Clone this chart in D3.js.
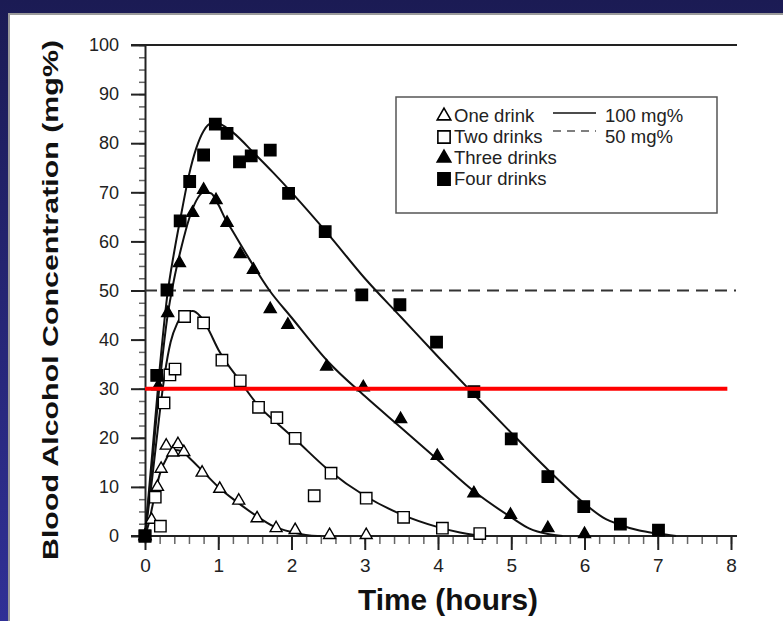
<!DOCTYPE html>
<html>
<head>
<meta charset="utf-8">
<script src="https://cdn.jsdelivr.net/npm/d3@7"></script>
<style>
  body { margin: 0; background: #1c1c58; }
  svg { display: block; }
  .tick text { font-family: "Liberation Sans", Arial, sans-serif; fill: #222; }
</style>
</head>
<body>
<div id="chart"></div>
<script>
// Observed points (time in hours, BAC in mg%)
const oneDrink = [[0,0],[0.09,3.3],[0.17,10],[0.22,13.7],[0.29,18.4],[0.38,17],[0.45,18.7],[0.53,17.1],
  [0.78,12.9],[1.02,9.6],[1.28,7.2],[1.53,3.6],[1.79,1.6],[2.05,1.2],[2.52,0.2],[3.02,0.2]];
const twoDrinks = [[0,0],[0.14,7.9],[0.21,2.0],[0.26,27.1],[0.34,32.8],[0.41,34],[0.54,44.7],[0.8,43.4],
  [1.05,35.8],[1.3,31.6],[1.55,26.2],[1.8,24.1],[2.05,19.9],[2.31,8.2],[2.54,12.8],[3.02,7.7],
  [3.53,3.8],[4.06,1.6],[4.57,0.5]];
const threeDrinks = [[0,0],[0.18,30.5],[0.31,45.4],[0.47,55.6],[0.65,65.8],[0.8,70.5],[0.97,68.4],
  [1.12,63.8],[1.3,57.4],[1.48,54.2],[1.71,46.2],[1.95,43],[2.48,34.5],[2.98,30.3],[3.49,23.8],
  [3.99,16.3],[4.49,8.7],[4.99,4.3],[5.5,1.6],[6,0.4]];
const fourDrinks = [[0,0],[0.16,32.7],[0.3,50.1],[0.48,64.2],[0.61,72.2],[0.8,77.6],[0.96,83.9],
  [1.12,82],[1.29,76.2],[1.45,77.4],[1.71,78.6],[1.96,69.8],[2.46,62],[2.96,49.1],[3.48,47.1],
  [3.98,39.5],[4.49,29.4],[5,19.8],[5.5,12.1],[5.99,6],[6.49,2.4],[7.01,1.2]];

// Fitted model curves
const oneDrinkFit = [[0,0],[0.05,2.5],[0.1,6],[0.2,12.5],[0.3,16],[0.4,17.5],[0.5,17.3],[0.6,16],
  [0.8,13],[1,10],[1.25,7],[1.5,4.3],[1.75,2],[2,0.8],[2.25,0.1],[2.4,0]];
const twoDrinksFit = [[0,0],[0.1,12],[0.2,25],[0.27,33],[0.35,39.5],[0.44,43.3],[0.55,45.5],[0.65,45.8],
  [0.75,44.8],[0.85,42.5],[1,38],[1.3,31.5],[1.55,26.5],[1.8,23],[2.05,19.7],[2.5,13.5],[3,8.2],
  [3.5,4.4],[4,1.8],[4.3,0.7],[4.5,0.2],[4.6,0]];
const threeDrinksFit = [[0,0],[0.1,15],[0.2,31],[0.3,44],[0.4,52.5],[0.5,59],[0.6,64.5],[0.7,68.3],
  [0.8,70],[0.9,69.8],[1,67.5],[1.1,64.5],[1.2,62],[1.4,57],[1.7,50],[2,44.5],[2.5,35.5],[3,28.5],
  [3.5,22],[4,15.5],[4.5,9],[5,3.8],[5.25,1.5],[5.5,0.4],[5.7,0]];
const fourDrinksFit = [[0,0],[0.1,17],[0.2,34],[0.3,48.5],[0.4,58],[0.5,66],[0.6,73.5],[0.7,79],
  [0.8,82.5],[0.9,84],[1,84],[1.1,83.3],[1.2,82.2],[1.5,77.8],[1.75,74],[2,70],[2.5,61.5],[3,52.5],
  [3.5,44.5],[4,36.5],[4.5,28.7],[5,21],[5.5,13.5],[6,6.6],[6.25,3.8],[6.5,2.2],[6.75,1.1],[7,0.5],[7.25,0]];

const xTicks = [0, 1, 2, 3, 4, 5, 6, 7, 8];
const yTicks = [0, 10, 20, 30, 40, 50, 60, 70, 80, 90, 100];
const limit50 = 50;      // dashed "50 mg%" level
const redLevel = 30;     // red annotation line
const redLineEnd = 7.95;

const legendSeries = ["One drink", "Two drinks", "Three drinks", "Four drinks"];
const legendLines = ["100 mg%", "50 mg%"];

const W = 783, H = 621;
const svg = d3.select("#chart").append("svg").attr("width", W).attr("height", H);

// background
const grad = svg.append("defs").append("linearGradient").attr("id", "bg")
  .attr("x1", 0).attr("y1", 0).attr("x2", 0).attr("y2", 1);
grad.append("stop").attr("offset", "0%").attr("stop-color", "#1b1b54");
grad.append("stop").attr("offset", "100%").attr("stop-color", "#303096");
svg.append("rect").attr("width", W).attr("height", H).attr("fill", "url(#bg)");
svg.append("rect").attr("x", 9).attr("y", 14).attr("width", W).attr("height", H)
  .attr("fill", "#fff").attr("stroke", "#9a9a9a").attr("stroke-width", 2);

const x = d3.scaleLinear().domain([0, 8]).range([145, 731]);
const y = d3.scaleLinear().domain([0, 100]).range([536, 45]);

// minor ticks
svg.append("g").attr("transform", `translate(${x(0)},0)`)
  .call(d3.axisLeft(y).tickValues(d3.range(0, 100.1, 2.5)).tickSize(6).tickFormat(""))
  .call(g => g.select(".domain").remove())
  .call(g => g.selectAll("line").attr("stroke", "#666").attr("stroke-width", 1.5));
svg.append("g").attr("transform", `translate(0,${y(0)})`)
  .call(d3.axisBottom(x).tickValues(d3.range(0, 8.01, 0.2)).tickSize(8).tickFormat(""))
  .call(g => g.select(".domain").remove())
  .call(g => g.selectAll("line").attr("stroke", "#666").attr("stroke-width", 1.5));

// major axes
svg.append("g").attr("transform", `translate(${x(0)},0)`)
  .call(d3.axisLeft(y).tickValues(yTicks).tickSize(14).tickPadding(12).tickSizeOuter(0))
  .call(g => g.select(".domain").attr("stroke", "#222").attr("stroke-width", 2))
  .call(g => g.selectAll("line").attr("stroke", "#222").attr("stroke-width", 2))
  .call(g => g.selectAll("text").attr("font-size", 18));
svg.append("g").attr("transform", `translate(0,${y(0)})`)
  .call(d3.axisBottom(x).tickValues(xTicks).tickSize(14).tickPadding(9).tickSizeOuter(0))
  .call(g => g.select(".domain").remove())
  .call(g => g.selectAll("line").attr("stroke", "#222").attr("stroke-width", 2))
  .call(g => g.selectAll("text").attr("font-size", 19));

// bottom and top frame lines
[0, 100].forEach(v => {
  svg.append("line").attr("x1", x(0) - 14).attr("x2", x(8) + 6)
    .attr("y1", y(v)).attr("y2", y(v)).attr("stroke", "#222").attr("stroke-width", 2);
});

// 50 mg% dashed line
svg.append("line").attr("x1", x(0)).attr("x2", x(8) + 5)
  .attr("y1", y(limit50)).attr("y2", y(limit50))
  .attr("stroke", "#333").attr("stroke-width", 1.8).attr("stroke-dasharray", "12,7");

// fitted curves
const line = d3.line().x(d => x(d[0])).y(d => y(d[1])).curve(d3.curveMonotoneX);
[oneDrinkFit, twoDrinksFit, threeDrinksFit, fourDrinksFit].forEach(fit => {
  svg.append("path").datum(fit).attr("d", line)
    .attr("fill", "none").attr("stroke", "#111").attr("stroke-width", 2);
});

// markers
const tri = d3.symbol().type(d3.symbolTriangle).size(62);
const sq = d3.symbol().type(d3.symbolSquare).size(130);
const markers = [
  { data: oneDrink, sym: tri, fill: "#fff" },
  { data: twoDrinks, sym: sq, fill: "#fff" },
  { data: threeDrinks, sym: tri, fill: "#000" },
  { data: fourDrinks, sym: sq, fill: "#000" }
];
markers.forEach(m => {
  svg.append("g").selectAll("path").data(m.data).enter().append("path")
    .attr("transform", d => `translate(${x(d[0])},${y(d[1])})`)
    .attr("d", m.sym)
    .attr("fill", m.fill).attr("stroke", "#000").attr("stroke-width", 1.4);
});

// legend
const lg = svg.append("g");
lg.append("rect").attr("x", 396).attr("y", 97).attr("width", 321).attr("height", 116)
  .attr("fill", "#fff").attr("stroke", "#555").attr("stroke-width", 1.5);
legendSeries.forEach((name, i) => {
  const cy = 115 + i * 21;
  lg.append("path").attr("transform", `translate(444,${cy + 1})`)
    .attr("d", i % 2 === 0 ? d3.symbol().type(d3.symbolTriangle).size(80) : d3.symbol().type(d3.symbolSquare).size(150))
    .attr("fill", markers[i].fill).attr("stroke", "#000").attr("stroke-width", 1.6);
  lg.append("text").attr("x", 454).attr("y", cy + 7).text(name)
    .attr("font-family", "Liberation Sans, Arial, sans-serif").attr("font-size", 18.5).attr("fill", "#222");
});
legendLines.forEach((name, i) => {
  const cy = 115 + i * 21;
  lg.append("line").attr("x1", 553).attr("x2", 596).attr("y1", cy - 2 - i * 3).attr("y2", cy - 2 - i * 3)
    .attr("stroke", i === 0 ? "#111" : "#555").attr("stroke-width", 1.6)
    .attr("stroke-dasharray", i === 0 ? null : "8,6");
  lg.append("text").attr("x", 605).attr("y", cy + 7).text(name)
    .attr("font-family", "Liberation Sans, Arial, sans-serif").attr("font-size", 18.5).attr("fill", "#222");
});

// red annotation line
svg.append("line").attr("x1", x(0)).attr("x2", x(redLineEnd))
  .attr("y1", y(redLevel)).attr("y2", y(redLevel))
  .attr("stroke", "#ff0000").attr("stroke-width", 4);

// axis titles
svg.append("text").attr("x", 448).attr("y", 610).attr("text-anchor", "middle")
  .attr("font-family", "Liberation Sans, Arial, sans-serif").attr("font-weight", "bold")
  .attr("font-size", 29).attr("textLength", 180).attr("lengthAdjust", "spacingAndGlyphs")
  .attr("fill", "#111").text("Time (hours)");
svg.append("text").attr("transform", "translate(58,300) rotate(-90)").attr("text-anchor", "middle")
  .attr("font-family", "Liberation Sans, Arial, sans-serif").attr("font-weight", "bold")
  .attr("font-size", 22).attr("textLength", 520).attr("lengthAdjust", "spacingAndGlyphs")
  .attr("fill", "#111").text("Blood Alcohol Concentration (mg%)");
</script>
</body>
</html>
